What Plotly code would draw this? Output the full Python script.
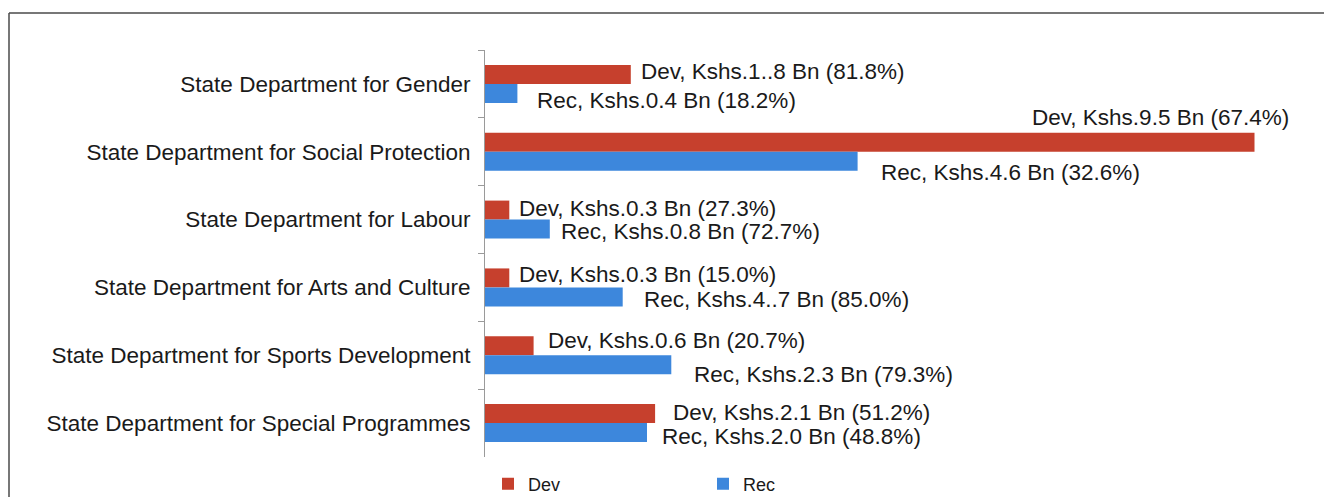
import plotly.graph_objects as go

# ---- data ----
categories = [
    "State Department for Gender",
    "State Department for Social Protection",
    "State Department for Labour",
    "State Department for Arts and Culture",
    "State Department for Sports Development",
    "State Department for Special Programmes",
]
dev_values = [1.8, 9.5, 0.3, 0.3, 0.6, 2.1]
rec_values = [0.4, 4.6, 0.8, 1.7, 2.3, 2.0]
dev_labels = [
    "Dev, Kshs.1..8 Bn (81.8%)",
    "Dev, Kshs.9.5 Bn (67.4%)",
    "Dev, Kshs.0.3 Bn (27.3%)",
    "Dev, Kshs.0.3 Bn (15.0%)",
    "Dev, Kshs.0.6 Bn (20.7%)",
    "Dev, Kshs.2.1 Bn (51.2%)",
]
rec_labels = [
    "Rec, Kshs.0.4 Bn (18.2%)",
    "Rec, Kshs.4.6 Bn (32.6%)",
    "Rec, Kshs.0.8 Bn (72.7%)",
    "Rec, Kshs.4..7 Bn (85.0%)",
    "Rec, Kshs.2.3 Bn (79.3%)",
    "Rec, Kshs.2.0 Bn (48.8%)",
]

# ---- styling / layout ----
DEV_COLOR = "#C6402D"
REC_COLOR = "#3D87DC"
FONT = "Liberation Sans, Arial, sans-serif"
TEXT_SIZE = 22.5
BARGAP = 0.44
# label placement (xshift px, yshift px, xanchor)
dev_label_pos = [(9, 3, "left"), (35, 25, "right"), (9, 2, "left"), (9, 3, "left"), (13, 5, "left"), (17, 1, "left")]
rec_label_pos = [(19, -7, "left"), (22, -11, "left"), (10, -2, "left"), (20, -3, "left"), (22, -10, "left"), (14, -4, "left")]

fig = go.Figure()
fig.add_trace(go.Bar(name="Dev", y=categories, x=dev_values, orientation="h",
                     marker=dict(color=DEV_COLOR, line=dict(width=0))))
fig.add_trace(go.Bar(name="Rec", y=categories, x=rec_values, orientation="h",
                     marker=dict(color=REC_COLOR, line=dict(width=0))))

off = (1 - BARGAP) / 4
annotations = []
for i in range(len(categories)):
    for vals, labels, pos, sign in ((dev_values, dev_labels, dev_label_pos, -1),
                                    (rec_values, rec_labels, rec_label_pos, 1)):
        xs, ys, anchor = pos[i]
        annotations.append(dict(
            x=vals[i], y=i + sign * off, xref="x", yref="y",
            text=labels[i], showarrow=False, xanchor=anchor, yanchor="middle",
            xshift=xs, yshift=ys, borderpad=0,
            font=dict(family=FONT, size=TEXT_SIZE, color="#1a1a1a"),
        ))

L, R, T, B = 485, 29, 50, 40
W, H = 1324, 497
pw, ph = W - L - R, H - T - B
def px_x(p):
    return (p - L) / pw
def px_y(p):
    return (H - B - p) / ph

shapes = [
    dict(type="line", xref="paper", yref="paper", x0=px_x(9), x1=px_x(1324), y0=px_y(13), y1=px_y(13),
         line=dict(color="#4a4a4a", width=1.5)),
    dict(type="line", xref="paper", yref="paper", x0=px_x(9), x1=px_x(9), y0=px_y(13), y1=px_y(497),
         line=dict(color="#4a4a4a", width=1.5)),
]

fig.update_layout(
    width=W, height=H,
    margin=dict(l=L, r=R, t=T, b=B, autoexpand=False),
    paper_bgcolor="white", plot_bgcolor="white",
    barmode="group", bargap=BARGAP, bargroupgap=0,
    font=dict(family=FONT, size=TEXT_SIZE, color="#1a1a1a"),
    showlegend=True,
    legend=dict(orientation="h", x=px_x(488), xanchor="left", y=px_y(484), yanchor="middle",
                font=dict(family=FONT, size=18, color="#1a1a1a"),
                entrywidth=170, itemwidth=30, traceorder="normal", bgcolor="rgba(0,0,0,0)"),
    annotations=annotations,
    shapes=shapes,
)
fig.update_xaxes(range=[0, 10], visible=False, showgrid=False, zeroline=False)
fig.update_yaxes(type="category", autorange="reversed", showline=True, linecolor="#9a9a9a", linewidth=1,
                 ticks="outside", ticklen=6, tickcolor="#9a9a9a", tickson="boundaries",
                 showgrid=False, zeroline=False, ticklabelstandoff=9,
                 tickfont=dict(family=FONT, size=TEXT_SIZE, color="#1a1a1a"))

fig.write_html("out.html", config={"displayModeBar": False},
               post_script="document.body.style.margin='0';document.body.style.overflow='hidden';")
